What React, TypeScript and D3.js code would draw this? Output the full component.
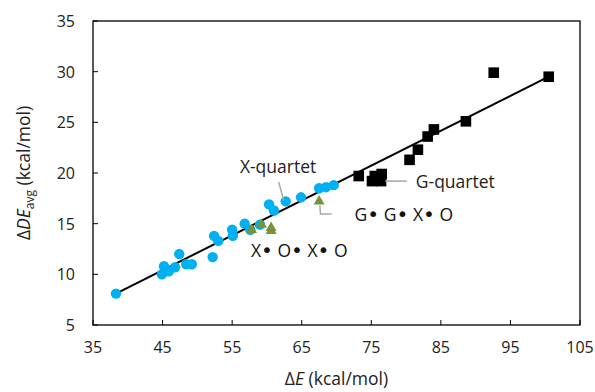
import * as d3 from 'd3';

// X-quartet (blue circles)
const xqE = [38.3, 44.9, 45.2, 45.9, 46.8, 47.4, 48.4, 49.2, 52.2, 52.4, 53.0, 55.0, 55.1, 56.8, 57.6, 59.0, 60.3, 61.0, 62.7, 64.9, 67.5, 68.5, 69.6];
const xqDE = [8.1, 10.0, 10.8, 10.3, 10.7, 12.0, 11.0, 11.0, 11.7, 13.8, 13.3, 14.4, 13.8, 15.0, 14.4, 14.9, 16.9, 16.3, 17.2, 17.6, 18.5, 18.6, 18.8];

// mixed quartets (green triangles)
const mixE = [57.8, 59.2, 60.6, 60.6, 67.5];
const mixDE = [14.4, 14.9, 14.6, 14.3, 17.2];

// G-quartet (black squares)
const gqE = [73.2, 75.1, 75.5, 76.5, 76.4, 80.5, 81.7, 83.1, 84.0, 88.6, 92.6, 100.5];
const gqDE = [19.7, 19.2, 19.7, 19.9, 19.2, 21.3, 22.3, 23.6, 24.3, 25.1, 29.9, 29.5];

// linear trend line
const trendSlope = 0.344;
const trendIntercept = -5.07;

const xTicks = [35, 45, 55, 65, 75, 85, 95, 105];
const yTicks = [5, 10, 15, 20, 25, 30, 35];

// bead sequences written under the mixed-quartet points
const seqTop = ['G', 'G', 'X', 'O'];
const seqBottom = ['X', 'O', 'X', 'O'];

const W = 595;
const H = 392;
const margin = { left: 93, right: 15, top: 21, bottom: 67 };
const font = '"Open Sans", Lato, sans-serif';

function Seq({ items, x, y, size }: { items: string[]; x: number; y: number; size: number }) {
  return (
    <text x={x} y={y} fontSize={size} fill="#111">
      {items.map((s, i) => (
        <tspan key={i}>
          {i > 0 ? ' ' : ''}{s}
          {i < items.length - 1 ? <tspan fontFamily="DejaVu Sans" fontSize={size * 1.15}>•</tspan> : null}
        </tspan>
      ))}
    </text>
  );
}

export default function App() {
  const x = d3.scaleLinear().domain([35, 105]).range([margin.left, W - margin.right]);
  const y = d3.scaleLinear().domain([5, 35]).range([H - margin.bottom, margin.top]);

  const allE = [...xqE, ...mixE, ...gqE];
  const [e0, e1] = d3.extent(allE) as [number, number];
  const trend = d3.line<number>()
    .x(d => x(d))
    .y(d => y(trendSlope * d + trendIntercept));

  const tri = d3.symbol().type(d3.symbolTriangle).size(52)() as string;

  const x0 = x(35), x1 = x(105), y0 = y(5), y1 = y(35);
  const lab = 17.5;

  return (
    <div style={{ position: 'absolute', left: 0, top: 0 }}>
      <svg width={W} height={H} style={{ display: 'block', fontFamily: font }}>
        <rect width={W} height={H} fill="white" />

        {/* frame */}
        <rect x={x0} y={y1} width={x1 - x0} height={y0 - y1} fill="none" stroke="#000" strokeWidth={1.3} />

        {/* ticks */}
        {xTicks.map(t => (
          <g key={'x' + t}>
            <line x1={x(t)} x2={x(t)} y1={y0} y2={y0 - 5} stroke="#000" />
            <text x={x(t)} y={y0 + 28} textAnchor="middle" fontSize={16} fill="#222">{t}</text>
          </g>
        ))}
        {yTicks.map(t => (
          <g key={'y' + t}>
            <line x1={x0} x2={x0 + 5} y1={y(t)} y2={y(t)} stroke="#000" />
            <text x={x0 - 18} y={y(t) + 6} textAnchor="end" fontSize={16} fill="#222">{t}</text>
          </g>
        ))}

        {/* trend line */}
        <path d={trend([e0, e1]) as string} fill="none" stroke="#000" strokeWidth={2} />

        {/* points */}
        {xqE.map((e, i) => (
          <circle key={'c' + i} cx={x(e)} cy={y(xqDE[i])} r={5.2} fill="#00B0F0" />
        ))}
        {mixE.map((e, i) => (
          <path key={'t' + i} d={tri} transform={`translate(${x(e)},${y(mixDE[i])})`} fill="#77933C" />
        ))}
        {gqE.map((e, i) => (
          <rect key={'s' + i} x={x(e) - 5.3} y={y(gqDE[i]) - 5.3} width={10.6} height={10.6} fill="#000" />
        ))}

        {/* annotations */}
        <line x1={x(61.7)} y1={y(19.1)} x2={x(62.4)} y2={y(17.3)} stroke="#A6A6A6" strokeWidth={1.5} />
        <text x={x(61.6)} y={y(20.6) + 6} textAnchor="middle" fontSize={lab} fill="#222">X-quartet</text>

        <line x1={x(77.0)} y1={y(19.2)} x2={x(80.1)} y2={y(19.2)} stroke="#A6A6A6" strokeWidth={1.5} />
        <text x={x(81.4)} y={y(19.1) + 6} fontSize={lab} fill="#222">G-quartet</text>

        <polyline
          points={`${x(67.6)},${y(16.8)} ${x(67.7)},${y(15.96)} ${x(69.3)},${y(15.96)}`}
          fill="none" stroke="#A6A6A6" strokeWidth={1.5}
        />
        <Seq items={seqTop} x={x(72.6)} y={y(15.9) + 6} size={lab} />
        <Seq items={seqBottom} x={x(57.7)} y={y(12.3) + 6} size={lab} />

        {/* axis titles */}
        <text x={(x0 + x1) / 2} y={385} textAnchor="middle" fontSize={lab} fill="#222">
          Δ<tspan fontStyle="italic">E</tspan> (kcal/mol)
        </text>
        <text transform={`translate(30,${(y0 + y1) / 2}) rotate(-90)`} textAnchor="middle" fontSize={lab} fill="#222">
          Δ<tspan fontStyle="italic">DE</tspan><tspan fontSize={12} dy={4}>avg</tspan><tspan dy={-4}> (kcal/mol)</tspan>
        </text>
      </svg>
    </div>
  );
}
